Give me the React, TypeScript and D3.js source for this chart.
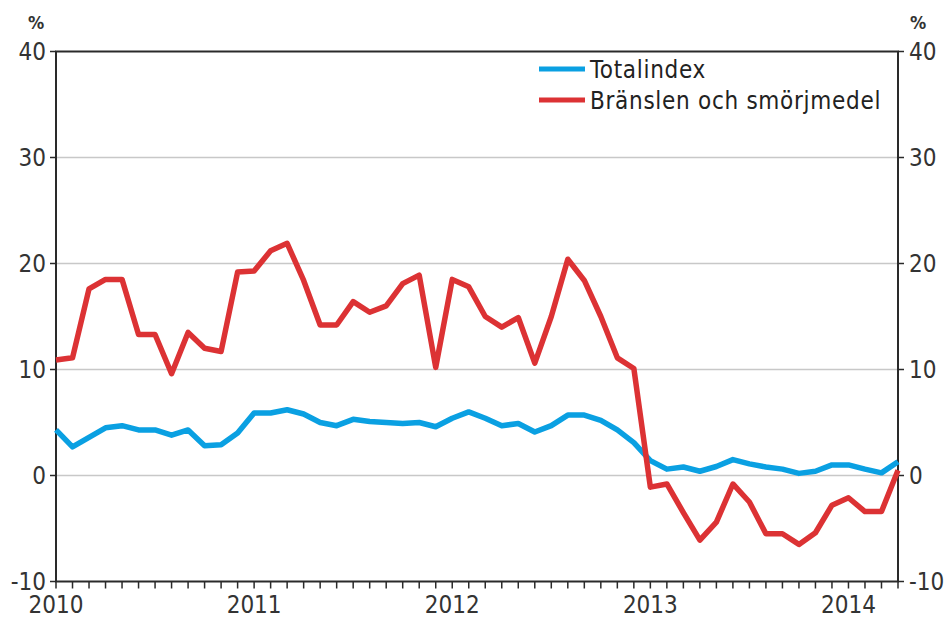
import React from "react";
import * as d3 from "d3";

const months: string[] = [
  "2010-01","2010-02","2010-03","2010-04","2010-05","2010-06","2010-07","2010-08","2010-09","2010-10","2010-11","2010-12",
  "2011-01","2011-02","2011-03","2011-04","2011-05","2011-06","2011-07","2011-08","2011-09","2011-10","2011-11","2011-12",
  "2012-01","2012-02","2012-03","2012-04","2012-05","2012-06","2012-07","2012-08","2012-09","2012-10","2012-11","2012-12",
  "2013-01","2013-02","2013-03","2013-04","2013-05","2013-06","2013-07","2013-08","2013-09","2013-10","2013-11","2013-12",
  "2014-01","2014-02","2014-03","2014-04",
];

const totalindex: number[] = [
  4.3, 2.7, 3.6, 4.5, 4.7, 4.3, 4.3, 3.8, 4.3, 2.8, 2.9, 4.0,
  5.9, 5.9, 6.2, 5.8, 5.0, 4.7, 5.3, 5.1, 5.0, 4.9, 5.0, 4.6,
  5.4, 6.0, 5.4, 4.7, 4.9, 4.1, 4.7, 5.7, 5.7, 5.2, 4.3, 3.1,
  1.4, 0.6, 0.8, 0.4, 0.85, 1.5, 1.1, 0.8, 0.6, 0.2, 0.4, 1.0,
  1.0, 0.6, 0.25, 1.3,
];

const bransle: number[] = [
  10.9, 11.1, 17.6, 18.5, 18.5, 13.3, 13.3, 9.6, 13.5, 12.0, 11.7, 19.2,
  19.3, 21.2, 21.9, 18.4, 14.2, 14.2, 16.4, 15.4, 16.0, 18.1, 18.9, 10.2,
  18.5, 17.8, 15.0, 14.0, 14.9, 10.6, 15.0, 20.4, 18.4, 15.0, 11.1, 10.1,
  -1.1, -0.8, -3.5, -6.1, -4.4, -0.8, -2.5, -5.5, -5.5, -6.5, -5.4, -2.8,
  -2.1, -3.4, -3.4, 0.5,
];

const yTicks: number[] = [-10, 0, 10, 20, 30, 40];
const yearLabels: string[] = ["2010", "2011", "2012", "2013", "2014"];
const seriesNames: string[] = ["Totalindex", "Bränslen och smörjmedel"];
const seriesColors: string[] = ["#0aa0e2", "#dc3234"];

const W = 947, H = 619;
const L = 56, R = 898, T = 51.5, B = 581.5;
const FONT = "'DejaVu Sans Condensed', 'DejaVu Sans', sans-serif";
const AXIS = "#2a2a2a";

export default function App() {
  const x = d3.scaleLinear().domain([0, months.length - 1]).range([L, R]);
  const y = d3.scaleLinear().domain([-10, 40]).range([B, T]);
  const line = d3.line<number>().x((_, i) => x(i)).y((d) => y(d));
  const yearIdx = months.map((m, i) => (m.endsWith("-01") ? i : -1)).filter((i) => i >= 0);

  return (
    <svg width={W} height={H} style={{ position: "absolute", left: 0, top: 0, background: "#fff" }}
      fontFamily={FONT} fontStretch="condensed">
      {yTicks.filter((t) => t > -10 && t < 40).map((t) => (
        <line key={"g" + t} x1={L} x2={R} y1={y(t)} y2={y(t)} stroke="#c8c8c8" strokeWidth={1.6} />
      ))}
      {/* frame */}
      <line x1={L - 1} x2={R + 1} y1={T} y2={T} stroke={AXIS} strokeWidth={2} />
      <line x1={L - 1} x2={R + 1} y1={B} y2={B} stroke={AXIS} strokeWidth={2} />
      <line x1={L} x2={L} y1={T} y2={B} stroke={AXIS} strokeWidth={2} />
      <line x1={R} x2={R} y1={T} y2={B} stroke={AXIS} strokeWidth={2} />
      {/* y ticks and labels */}
      {yTicks.map((t) => (
        <g key={"y" + t}>
          <line x1={L - 6} x2={L} y1={y(t)} y2={y(t)} stroke={AXIS} strokeWidth={1.5} />
          <line x1={R} x2={R + 6} y1={y(t)} y2={y(t)} stroke={AXIS} strokeWidth={1.5} />
          <text x={L - 10} y={y(t)} dy="0.36em" textAnchor="end" fontSize={24} fill="#333">{t}</text>
          <text x={R + 11} y={y(t)} dy="0.36em" textAnchor="start" fontSize={24} fill="#333">{t}</text>
        </g>
      ))}
      <text x={36} y={29} textAnchor="middle" fontSize={18} fontWeight="bold" fill="#333">%</text>
      <text x={918} y={29} textAnchor="middle" fontSize={18} fontWeight="bold" fill="#333">%</text>
      {/* x ticks */}
      {months.map((m, i) => (
        <line key={"x" + m} x1={x(i)} x2={x(i)} y1={B} y2={B + 7} stroke={AXIS} strokeWidth={1.5} />
      ))}
      {yearIdx.map((i, k) => (
        <text key={"yl" + i} x={x(i)} y={613} textAnchor="middle" fontSize={24} fill="#333">{yearLabels[k]}</text>
      ))}
      {/* series */}
      <path d={line(totalindex) || ""} fill="none" stroke={seriesColors[0]} strokeWidth={5.5} strokeLinejoin="round" />
      <path d={line(bransle) || ""} fill="none" stroke={seriesColors[1]} strokeWidth={5.5} strokeLinejoin="round" />
      {/* legend */}
      {seriesNames.map((n, k) => (
        <g key={"lg" + k}>
          <line x1={539} x2={585} y1={69 + k * 31} y2={69 + k * 31} stroke={seriesColors[k]} strokeWidth={5} />
          <text x={590} y={78 + k * 31} fontSize={24} letterSpacing={0.7} fill="#222">{n}</text>
        </g>
      ))}
    </svg>
  );
}
